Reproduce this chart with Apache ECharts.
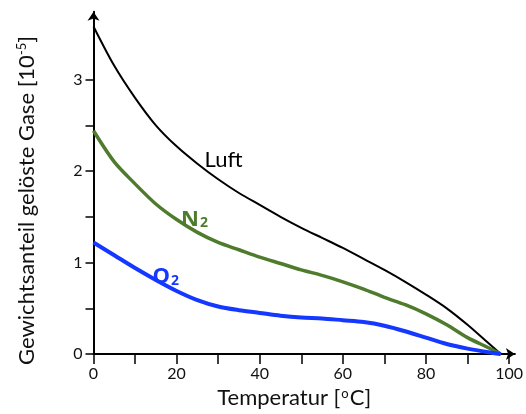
<!DOCTYPE html>
<html>
<head>
<meta charset="utf-8">
<script src="https://cdn.jsdelivr.net/npm/echarts@6/dist/echarts.min.js"></script>
<style>
  html, body { margin: 0; padding: 0; background: #fff; }
  #chart { width: 526px; height: 414px; }
</style>
</head>
<body>
<div id="chart"></div>
<script>
// Temperatur [°C]
const temps = [0, 5, 10, 15, 20, 25, 30, 35, 40, 45, 50, 55, 60, 65, 70, 75, 80, 85, 90, 95, 98];
// Gewichtsanteil [10^-5]
const luft = [3.58, 3.15, 2.80, 2.50, 2.27, 2.08, 1.91, 1.76, 1.63, 1.50, 1.38, 1.27, 1.16, 1.04, 0.92, 0.79, 0.65, 0.50, 0.32, 0.12, 0];
const n2 = [2.44, 2.10, 1.86, 1.64, 1.47, 1.33, 1.22, 1.14, 1.06, 0.99, 0.92, 0.86, 0.79, 0.71, 0.62, 0.54, 0.44, 0.32, 0.18, 0.07, 0];
const o2 = [1.22, 1.08, 0.94, 0.81, 0.69, 0.59, 0.52, 0.48, 0.45, 0.42, 0.40, 0.39, 0.37, 0.35, 0.31, 0.25, 0.18, 0.11, 0.06, 0.02, 0];

const xTicks = [0, 10, 20, 30, 40, 50, 60, 70, 80, 90, 100];
const xLabels = [0, 20, 40, 60, 80, 100];
const yTicks = [0, 0.5, 1, 1.5, 2, 2.5, 3];
const yLabels = [0, 1, 2, 3];

// label positions (data coords)
const labelLuft = [31.3, 2.12];
const labelN2 = [24.3, 1.47];
const labelO2 = [17.4, 0.84];

const font = 'Lato';
const boldFont = 'Open Sans';

function pairs(ys) {
  return temps.map((t, i) => [t, ys[i]]);
}

const myChart = echarts.init(document.getElementById('chart'));

function curveLabel(coord, text, color, size, rich) {
  return {
    symbol: 'circle',
    symbolSize: 0,
    silent: true,
    label: { show: true, position: 'inside', formatter: text, color: color, fontFamily: font, fontSize: size, rich: rich },
    data: [{ coord: coord }]
  };
}

const subRich = (color) => ({
  b: { fontSize: 22, fontWeight: 'bold', color: color, fontFamily: boldFont },
  s: { fontSize: 14, fontWeight: 'bold', color: color, fontFamily: boldFont, padding: [7, 0, 0, 1] }
});

const option = {
  animation: false,
  grid: { left: 93.5, right: 9.8, top: 11.8, bottom: 55 },
  xAxis: {
    type: 'value',
    min: 0,
    max: 101.4,
    name: 'Temperatur [{sup|o}C]',
    nameLocation: 'middle',
    nameGap: 28,
    nameTextStyle: {
      fontSize: 22, color: '#111', fontFamily: font, padding: [0, 20, 0, 0],
      rich: { sup: { fontSize: 13, padding: [0, 1, 9, 1], fontFamily: font, color: '#111' } }
    },
    splitLine: { show: false },
    axisLine: { lineStyle: { color: '#000', width: 2 }, symbol: ['none', 'arrow'], symbolSize: [9, 9] },
    axisTick: { show: true, length: 10, lineStyle: { color: '#000', width: 1.5 }, customValues: xTicks },
    axisLabel: { fontSize: 16, color: '#111', fontFamily: font, margin: 12, customValues: xLabels }
  },
  yAxis: {
    type: 'value',
    min: 0,
    max: 3.74,
    name: 'Gewichtsanteil gelöste Gase [10{sup|-5}]',
    nameLocation: 'middle',
    nameGap: 56,
    nameTextStyle: {
      fontSize: 22, color: '#111', fontFamily: font, padding: [0, 35, 0, 0],
      rich: { sup: { fontSize: 13, padding: [0, 0, 9, 0], fontFamily: font, color: '#111' } }
    },
    splitLine: { show: false },
    axisLine: { lineStyle: { color: '#000', width: 2 }, symbol: ['none', 'arrow'], symbolSize: [9, 9] },
    axisTick: { show: true, length: 8, lineStyle: { color: '#000', width: 1.5 }, customValues: yTicks },
    axisLabel: { fontSize: 16, color: '#111', fontFamily: font, margin: 11, customValues: yLabels }
  },
  series: [
    {
      name: 'Luft',
      type: 'line',
      smooth: 0.3,
      showSymbol: false,
      lineStyle: { color: '#000', width: 2 },
      data: pairs(luft),
      markPoint: curveLabel(labelLuft, 'Luft', '#000', 22)
    },
    {
      name: 'N2',
      type: 'line',
      smooth: 0.3,
      showSymbol: false,
      lineStyle: { color: '#4e7b2c', width: 3.5 },
      data: pairs(n2),
      markPoint: curveLabel(labelN2, '{b|N}{s|2}', '#4e7b2c', 22, subRich('#4e7b2c'))
    },
    {
      name: 'O2',
      type: 'line',
      smooth: 0.3,
      showSymbol: false,
      lineStyle: { color: '#1438ff', width: 4 },
      data: pairs(o2),
      markPoint: curveLabel(labelO2, '{b|O}{s|2}', '#1438ff', 22, subRich('#1438ff'))
    }
  ]
};

// 清除画布
myChart.clear();
myChart.setOption(option);
window.addEventListener('resize', function () {
  myChart.resize();
});
</script>
</body>
</html>
